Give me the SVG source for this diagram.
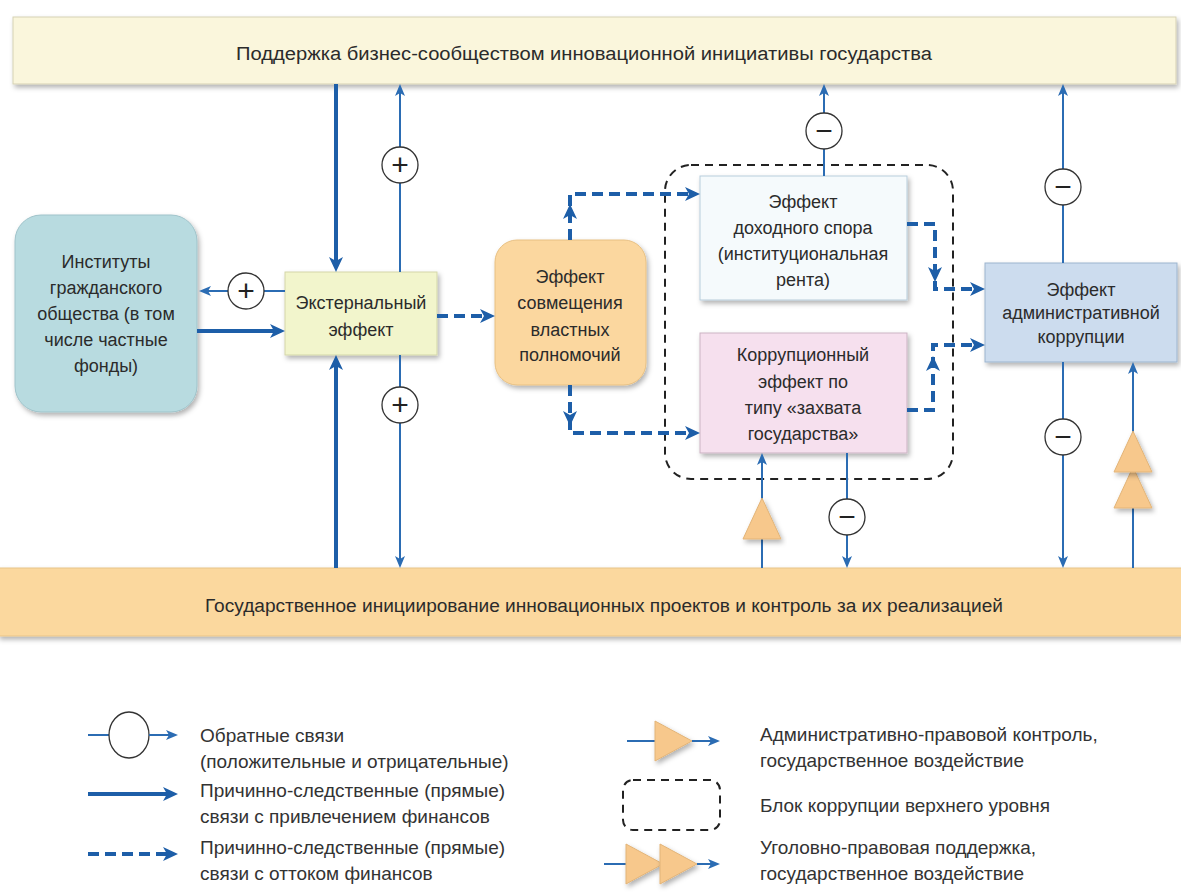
<svg xmlns="http://www.w3.org/2000/svg" xmlns:xlink="http://www.w3.org/1999/xlink" width="1181" height="894" viewBox="0 0 1181 894">
  <defs>
    <style>
      text { font-family: "Liberation Sans", Arial, sans-serif; fill: #2b2b2b; }
      .lbl { font-size: 18px; text-anchor: middle; }
      .bar { font-size: 18px; text-anchor: middle; }
      .leg { font-size: 19px; fill: #333; }
      .sign { font-size: 30px; text-anchor: middle; fill: #222; }
      .thick { fill: none; stroke: #1d5ea8; stroke-width: 4; }
      .dash { fill: none; stroke: #1d5ea8; stroke-width: 4; stroke-dasharray: 11 6; }
      .thin { fill: none; stroke: #2b6cb3; stroke-width: 2; }
      .fb { fill: #fff; stroke: #333; stroke-width: 1.3; }
      .tri { fill: #f7c88c; stroke: #e2b478; stroke-width: 1; }
      .block { fill: none; stroke: #222; stroke-width: 2; stroke-dasharray: 8 6; }
      .ah { fill: #1d5ea8; }
    </style>
    <filter id="shadow" x="-10%" y="-10%" width="125%" height="130%">
      <feDropShadow dx="2" dy="3" stdDeviation="2.5" flood-color="#000" flood-opacity="0.3"/>
    </filter>
    <marker id="mThick" viewBox="-16 -8 17 16" refX="-10" refY="0" markerWidth="17" markerHeight="16" markerUnits="userSpaceOnUse" orient="auto" overflow="visible">
      <path class="ah" d="M0,0 L-15,-7 L-11,0 L-15,7 Z"/>
    </marker>
    <marker id="mThin" viewBox="-13 -6 14 12" refX="-8" refY="0" markerWidth="14" markerHeight="12" markerUnits="userSpaceOnUse" orient="auto" overflow="visible">
      <path fill="#2b6cb3" d="M0,0 L-12,-5 L-9,0 L-12,5 Z"/>
    </marker>
    <!-- arrowhead used at the bends of dashed connectors (points right, tip at origin) -->
    <path id="ahBend" class="ah" d="M0,0 L-15,-7 L-11,0 L-15,7 Z"/>
    <!-- orange control triangle pointing up, apex at origin -->
    <path id="triUp" class="tri" d="M0,0 L19,41 L-19,41 Z"/>
    <path id="triRight" class="tri" d="M0,0 L-37,-20 L-37,20 Z"/>
  </defs>

  <!-- top bar -->
  <g id="top-bar">
    <rect x="13" y="17" width="1163" height="67" fill="#faf6dc" stroke="#d6d1b4" stroke-width="1" filter="url(#shadow)"/>
    <text class="bar" x="584" y="60" textLength="696" lengthAdjust="spacingAndGlyphs">Поддержка бизнес-сообществом инновационной инициативы государства</text>
  </g>

  <!-- bottom bar -->
  <g id="bottom-bar">
    <rect x="-2" y="568" width="1185" height="68" fill="#fbd89e" stroke="#e8c488" stroke-width="1" filter="url(#shadow)"/>
    <text class="bar" x="604" y="612" textLength="798" lengthAdjust="spacingAndGlyphs">Государственное инициирование инновационных проектов и контроль за их реализацией</text>
  </g>

  <!-- corruption block frame -->
  <g id="upper-corruption-block">
    <rect class="block" x="665" y="165" width="288" height="314" rx="26"/>
  </g>

  <!-- nodes -->
  <g id="civil-institutes">
    <rect x="15" y="215" width="182" height="197" rx="26" fill="#b8dbe0" stroke="#9fc3ca" stroke-width="1" filter="url(#shadow)"/>
    <text class="lbl" x="106" y="268">Институты</text>
    <text class="lbl" x="106" y="294">гражданского</text>
    <text class="lbl" x="106" y="320">общества (в том</text>
    <text class="lbl" x="106" y="346">числе частные</text>
    <text class="lbl" x="106" y="372">фонды)</text>
  </g>

  <g id="external-effect">
    <rect x="285" y="272" width="152" height="83" fill="#f2f5cc" stroke="#d3d6a8" stroke-width="1" filter="url(#shadow)"/>
    <text class="lbl" x="361" y="309">Экстернальный</text>
    <text class="lbl" x="361" y="336">эффект</text>
  </g>

  <g id="power-combination">
    <rect x="495" y="240" width="151" height="145" rx="22" fill="#fbd79f" stroke="#e8c082" stroke-width="1" filter="url(#shadow)"/>
    <text class="lbl" x="570" y="283">Эффект</text>
    <text class="lbl" x="570" y="309">совмещения</text>
    <text class="lbl" x="570" y="336">властных</text>
    <text class="lbl" x="570" y="361">полномочий</text>
  </g>

  <g id="rent-seeking">
    <rect x="700" y="176" width="207" height="124" fill="#f5fafc" stroke="#b7cddb" stroke-width="1" filter="url(#shadow)"/>
    <text class="lbl" x="803" y="208">Эффект</text>
    <text class="lbl" x="803" y="234">доходного спора</text>
    <text class="lbl" x="803" y="260">(институциональная</text>
    <text class="lbl" x="803" y="286">рента)</text>
  </g>

  <g id="state-capture">
    <rect x="700" y="333" width="207" height="120" fill="#f6e0ee" stroke="#cbb3c3" stroke-width="1" filter="url(#shadow)"/>
    <text class="lbl" x="803" y="361">Коррупционный</text>
    <text class="lbl" x="803" y="388">эффект по</text>
    <text class="lbl" x="803" y="414">типу «захвата</text>
    <text class="lbl" x="803" y="440">государства»</text>
  </g>

  <g id="admin-corruption">
    <rect x="985" y="263" width="192" height="99" fill="#ccdcee" stroke="#9cb4ce" stroke-width="1" filter="url(#shadow)"/>
    <text class="lbl" x="1081" y="296">Эффект</text>
    <text class="lbl" x="1081" y="319">административной</text>
    <text class="lbl" x="1081" y="343">коррупции</text>
  </g>

  <!-- connectors -->
  <g id="connectors">
    <!-- financing links (solid, thick) -->
    <path class="thick" d="M336,84 V262" marker-end="url(#mThick)"/>
    <path class="thick" d="M336,568 V365" marker-end="url(#mThick)"/>
    <path class="thick" d="M197,331 H275" marker-end="url(#mThick)"/>

    <!-- outflow links (dashed, thick) -->
    <path class="dash" d="M437,316 H485" marker-end="url(#mThick)"/>
    <path class="dash" d="M570,240 V194 H690" marker-end="url(#mThick)"/>
    <use xlink:href="#ahBend" transform="translate(570,204) rotate(-90)"/>
    <path class="dash" d="M570,385 V433 H690" marker-end="url(#mThick)"/>
    <use xlink:href="#ahBend" transform="translate(570,426) rotate(90)"/>
    <path class="dash" d="M907,224 H935 V289 H975" marker-end="url(#mThick)"/>
    <use xlink:href="#ahBend" transform="translate(935,282) rotate(90)"/>
    <path class="dash" d="M907,410 H933 V345 H975" marker-end="url(#mThick)"/>
    <use xlink:href="#ahBend" transform="translate(933,356) rotate(-90)"/>

    <!-- feedback links (thin, with sign circles) -->
    <path class="thin" d="M285,291 H207" marker-end="url(#mThin)"/>
    <path class="thin" d="M400,272 V92" marker-end="url(#mThin)"/>
    <path class="thin" d="M400,355 V560" marker-end="url(#mThin)"/>
    <path class="thin" d="M824,176 V92" marker-end="url(#mThin)"/>
    <path class="thin" d="M1063,263 V92" marker-end="url(#mThin)"/>
    <path class="thin" d="M1063,362 V560" marker-end="url(#mThin)"/>
    <path class="thin" d="M847,453 V560" marker-end="url(#mThin)"/>

    <!-- state control links (thin, with triangles) -->
    <path class="thin" d="M762,568 V461" marker-end="url(#mThin)"/>
    <path class="thin" d="M1133,568 V370" marker-end="url(#mThin)"/>

    <circle class="fb" cx="246" cy="291" r="18"/>
    <text class="sign" x="246" y="301">+</text>
    <circle class="fb" cx="400" cy="165" r="18"/>
    <text class="sign" x="400" y="175">+</text>
    <circle class="fb" cx="400" cy="405" r="18"/>
    <text class="sign" x="400" y="415">+</text>
    <circle class="fb" cx="824" cy="131" r="18"/>
    <text class="sign" x="824" y="141">−</text>
    <circle class="fb" cx="1063" cy="187" r="18"/>
    <text class="sign" x="1063" y="197">−</text>
    <circle class="fb" cx="1063" cy="437" r="18"/>
    <text class="sign" x="1063" y="447">−</text>
    <circle class="fb" cx="847" cy="517" r="18"/>
    <text class="sign" x="847" y="527">−</text>

    <use xlink:href="#triUp" x="762" y="498" filter="url(#shadow)"/>
    <use xlink:href="#triUp" x="1133" y="467" filter="url(#shadow)"/>
    <use xlink:href="#triUp" x="1133" y="431" filter="url(#shadow)"/>
  </g>

  <!-- legend -->
  <g id="legend">
    <path class="thin" d="M88,735 H109"/>
    <ellipse class="fb" cx="129" cy="735" rx="20" ry="23"/>
    <path class="thin" d="M149,735 H170" marker-end="url(#mThin)"/>
    <text class="leg" x="200" y="742">Обратные связи</text>
    <text class="leg" x="200" y="768">(положительные и отрицательные)</text>

    <path class="thick" d="M88,794 H168" marker-end="url(#mThick)"/>
    <text class="leg" x="200" y="797">Причинно-следственные (прямые)</text>
    <text class="leg" x="200" y="823">связи с привлечением финансов</text>

    <path class="dash" d="M88,854 H168" marker-end="url(#mThick)"/>
    <text class="leg" x="200" y="854">Причинно-следственные (прямые)</text>
    <text class="leg" x="200" y="880">связи с оттоком финансов</text>

    <path class="thin" d="M627,741 H655"/>
    <use xlink:href="#triRight" x="692" y="741" filter="url(#shadow)"/>
    <path class="thin" d="M692,741 H712" marker-end="url(#mThin)"/>
    <text class="leg" x="760" y="741">Административно-правовой контроль,</text>
    <text class="leg" x="760" y="767">государственное воздействие</text>

    <rect class="block" x="623" y="780" width="97" height="50" rx="10"/>
    <text class="leg" x="760" y="812">Блок коррупции верхнего уровня</text>

    <path class="thin" d="M604,864 H627"/>
    <use xlink:href="#triRight" x="663" y="864" filter="url(#shadow)"/>
    <use xlink:href="#triRight" x="697" y="864" filter="url(#shadow)"/>
    <path class="thin" d="M697,864 H712" marker-end="url(#mThin)"/>
    <text class="leg" x="760" y="854">Уголовно-правовая поддержка,</text>
    <text class="leg" x="760" y="880">государственное воздействие</text>
  </g>
</svg>
